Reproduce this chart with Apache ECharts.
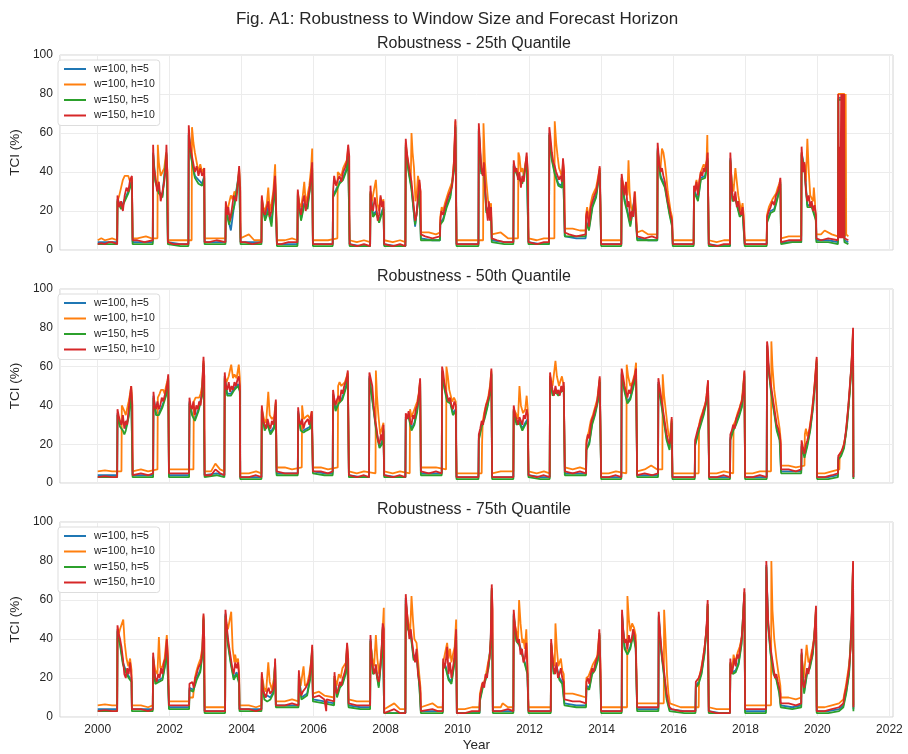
<!DOCTYPE html>
<html>
<head>
<meta charset="utf-8">
<script src="https://cdn.jsdelivr.net/npm/echarts@6.0.0/dist/echarts.min.js"></script>
<style>html,body{margin:0;padding:0;background:#fff;}#chart{width:908px;height:754px;}</style>
</head>
<body>
<div id="chart"></div>
<script>
const mainTitle = 'Fig. A1: Robustness to Window Size and Forecast Horizon';
const panelTitles = ['Robustness - 25th Quantile', 'Robustness - 50th Quantile', 'Robustness - 75th Quantile'];
const seriesNames = ['w=100, h=5', 'w=100, h=10', 'w=150, h=5', 'w=150, h=10'];
const xTicks = [2000, 2002, 2004, 2006, 2008, 2010, 2012, 2014, 2016, 2018, 2020, 2022];

// ---------- 25th quantile ----------
const q25_w100_h5 = [[2000.0,4],[2000.3,4],[2000.54,4],[2000.55,26],[2000.65,22],[2000.75,26],[2000.85,30],[2000.95,36],[2000.97,4],
[2001.3,4],[2001.53,4],[2001.54,50],[2001.6,36],[2001.7,30],[2001.8,28],[2001.91,50],[2001.95,4],
[2002.3,3],[2002.52,3],[2002.53,60],[2002.6,48],[2002.7,38],[2002.8,36],[2002.9,34],[2002.96,38],[2002.97,4],
[2003.3,4],[2003.55,4],[2003.56,22],[2003.65,14],[2003.7,10],[2003.8,24],[2003.93,40],[2003.97,4],
[2004.3,4],[2004.55,4],[2004.56,26],[2004.65,16],[2004.74,22],[2004.83,14],[2004.93,35],[2004.96,17],[2004.98,3],
[2005.3,3],[2005.55,3],[2005.56,29],[2005.65,16],[2005.74,24],[2005.83,22],[2005.96,42],[2005.98,3],
[2006.3,3],[2006.53,3],[2006.54,28],[2006.62,31],[2006.72,35],[2006.82,37],[2006.92,42],[2006.96,50],[2007.0,3],
[2007.3,2],[2007.57,2],[2007.58,30],[2007.65,18],[2007.74,20],[2007.82,15],[2007.9,20],[2007.94,22],[2007.96,3],
[2008.3,2],[2008.55,2],[2008.56,54],[2008.63,42],[2008.72,32],[2008.82,12],[2008.9,25],[2008.94,33],[2008.98,6],
[2009.3,5],[2009.51,5],[2009.52,14],[2009.6,16],[2009.7,23],[2009.8,28],[2009.9,42],[2009.94,64],[2009.97,3],
[2010.3,3],[2010.58,3],[2010.59,62],[2010.66,40],[2010.73,42],[2010.8,20],[2010.87,22],[2010.93,20],[2010.95,5],
[2011.3,4],[2011.55,4],[2011.56,44],[2011.64,40],[2011.72,37],[2011.8,35],[2011.92,47],[2011.97,4],
[2012.3,3],[2012.54,3],[2012.55,60],[2012.62,47],[2012.7,40],[2012.8,34],[2012.9,33],[2012.93,44],[2012.98,7],
[2013.3,6],[2013.56,6],[2013.57,15],[2013.65,11],[2013.75,23],[2013.85,28],[2013.95,41],[2013.99,3],
[2014.3,3],[2014.55,3],[2014.56,37],[2014.64,26],[2014.72,20],[2014.8,13],[2014.92,27],[2014.99,6],
[2015.3,5],[2015.55,5],[2015.56,52],[2015.64,38],[2015.76,33],[2015.88,20],[2015.96,13],[2015.98,3],
[2016.3,3],[2016.56,3],[2016.57,31],[2016.68,26],[2016.76,37],[2016.88,38],[2016.95,47],[2016.98,3],
[2017.3,2],[2017.57,2],[2017.58,47],[2017.64,26],[2017.72,27],[2017.84,18],[2017.92,20],[2017.98,3],
[2018.3,3],[2018.59,3],[2018.6,15],[2018.7,20],[2018.8,21],[2018.9,28],[2018.97,35],[2018.99,4],
[2019.3,4],[2019.55,4],[2019.56,50],[2019.64,42],[2019.72,23],[2019.84,23],[2019.96,16],[2019.97,5],
[2020.3,5],[2020.57,4],[2020.58,78],[2020.74,78],[2020.75,5],[2020.86,4]];

const q25_w100_h10 = [[2000.0,5],[2000.1,6],[2000.2,5],[2000.3,5.5],[2000.4,6],[2000.54,5],
[2000.55,25],[2000.6,28],[2000.65,32],[2000.7,36],[2000.75,38],[2000.8,37],[2000.85,38],[2000.9,35],[2000.95,37],[2000.97,6],
[2001.1,6],[2001.34,7],[2001.5,6],[2001.66,6],
[2001.67,54],[2001.7,45],[2001.75,38],[2001.8,40],[2001.85,42],[2001.9,50],[2001.94,40],[2001.95,5],
[2002.2,5],[2002.5,5],[2002.61,5],
[2002.62,63],[2002.66,55],[2002.7,50],[2002.75,45],[2002.8,40],[2002.85,44],[2002.9,40],[2002.96,42],[2002.97,6],
[2003.2,6],[2003.4,6],[2003.55,6],
[2003.56,24],[2003.6,20],[2003.65,24],[2003.7,28],[2003.75,26],[2003.8,30],[2003.85,28],[2003.9,36],[2003.93,42],[2003.96,32],[2003.97,6],
[2004.2,8],[2004.35,5],[2004.55,5],
[2004.56,27],[2004.6,22],[2004.65,20],[2004.7,24],[2004.74,32],[2004.78,20],[2004.83,24],[2004.88,30],[2004.93,44],[2004.96,20],[2004.98,5],
[2005.2,5],[2005.4,6],[2005.55,5],
[2005.56,30],[2005.6,24],[2005.65,22],[2005.7,28],[2005.74,35],[2005.78,24],[2005.83,28],[2005.88,33],[2005.93,42],[2005.96,52],[2005.98,5],
[2006.2,5],[2006.4,5],[2006.66,6],
[2006.67,40],[2006.72,40],[2006.77,38],[2006.82,42],[2006.87,44],[2006.92,46],[2006.96,52],[2007.0,5],
[2007.2,4],[2007.4,5],[2007.57,4],
[2007.58,30],[2007.62,25],[2007.67,24],[2007.73,36],[2007.77,24],[2007.82,20],[2007.86,27],[2007.9,24],[2007.94,26],[2007.96,5],
[2008.2,4],[2008.4,5],[2008.55,4],
[2008.56,55],[2008.6,48],[2008.65,42],[2008.7,36],[2008.72,60],[2008.75,50],[2008.79,42],[2008.83,25],[2008.87,30],[2008.9,38],[2008.94,34],[2008.97,30],[2008.98,9],
[2009.2,9],[2009.4,8],[2009.51,9],
[2009.52,17],[2009.56,22],[2009.6,20],[2009.65,24],[2009.7,27],[2009.75,30],[2009.8,31],[2009.85,35],[2009.9,46],[2009.94,66],[2009.97,5],
[2010.2,5],[2010.4,5],[2010.71,5],
[2010.72,65],[2010.76,45],[2010.8,35],[2010.85,25],[2010.9,20],[2010.93,24],[2010.95,8],
[2011.2,9],[2011.4,6],[2011.68,6],
[2011.69,50],[2011.72,48],[2011.76,40],[2011.8,42],[2011.84,38],[2011.88,44],[2011.92,48],[2011.95,40],[2011.97,6],
[2012.2,5],[2012.4,6],[2012.69,6],
[2012.7,66],[2012.74,55],[2012.78,48],[2012.82,42],[2012.86,40],[2012.9,37],[2012.93,45],[2012.96,40],[2012.98,11],
[2013.2,11],[2013.4,10],[2013.56,10],
[2013.57,18],[2013.6,22],[2013.65,16],[2013.7,24],[2013.75,28],[2013.8,30],[2013.85,32],[2013.9,37],[2013.95,42],[2013.99,5],
[2014.2,5],[2014.4,5],[2014.55,5],
[2014.56,37],[2014.6,34],[2014.64,30],[2014.68,34],[2014.72,28],[2014.75,46],[2014.78,30],[2014.82,22],[2014.86,20],[2014.9,24],[2014.93,30],[2014.96,20],[2014.99,9],
[2015.13,10],[2015.3,8],[2015.55,8],
[2015.56,50],[2015.6,45],[2015.64,42],[2015.68,52],[2015.72,50],[2015.76,45],[2015.8,38],[2015.84,30],[2015.88,25],[2015.92,20],[2015.96,17],[2015.98,5],
[2016.2,5],[2016.4,5],[2016.56,5],
[2016.57,30],[2016.6,32],[2016.64,36],[2016.68,30],[2016.72,36],[2016.76,40],[2016.8,40],[2016.84,44],[2016.88,42],[2016.92,46],[2016.94,59],[2016.98,5],
[2017.2,4],[2017.4,5],[2017.57,5],
[2017.58,45],[2017.62,35],[2017.67,30],[2017.72,42],[2017.76,35],[2017.8,28],[2017.84,24],[2017.88,20],[2017.92,24],[2017.95,18],[2017.98,5],
[2018.2,5],[2018.4,5],[2018.59,5],
[2018.6,18],[2018.65,22],[2018.7,24],[2018.75,26],[2018.8,25],[2018.85,29],[2018.9,32],[2018.94,34],[2018.97,36],[2018.99,6],
[2019.2,7],[2019.4,7],[2019.55,7],
[2019.56,50],[2019.6,42],[2019.64,44],[2019.68,35],[2019.72,57],[2019.76,40],[2019.8,28],[2019.84,28],[2019.88,25],[2019.9,32],[2019.93,25],[2019.97,8],
[2020.1,8],[2020.2,10],[2020.4,8],[2020.57,7],
[2020.58,80],[2020.75,80],[2020.76,7],[2020.765,80],[2020.77,7],[2020.775,80],[2020.78,8],[2020.785,80],[2020.79,80],[2020.8,8],[2020.86,7]];

const q25_w150_h5 = [[2000.0,3],[2000.3,3],[2000.54,3],[2000.55,25],[2000.65,21],[2000.75,25],[2000.85,29],[2000.95,35],[2000.97,3],
[2001.3,3],[2001.53,3],[2001.54,49],[2001.6,35],[2001.7,29],[2001.8,27],[2001.91,49],[2001.95,3],
[2002.3,2],[2002.52,2],[2002.53,59],[2002.6,47],[2002.7,37],[2002.8,34],[2002.9,33],[2002.96,37],[2002.97,3],
[2003.3,3],[2003.55,3],[2003.56,21],[2003.65,13],[2003.7,12],[2003.8,23],[2003.93,39],[2003.97,3],
[2004.3,3],[2004.55,3],[2004.56,25],[2004.65,15],[2004.74,20],[2004.83,12],[2004.93,34],[2004.96,16],[2004.98,2],
[2005.3,2],[2005.55,2],[2005.56,28],[2005.65,15],[2005.74,23],[2005.83,21],[2005.96,41],[2005.98,2],
[2006.3,2],[2006.53,2],[2006.54,27],[2006.62,30],[2006.72,34],[2006.82,36],[2006.92,41],[2006.96,49],[2007.0,2],
[2007.3,2],[2007.57,2],[2007.58,29],[2007.65,17],[2007.74,19],[2007.82,14],[2007.9,19],[2007.94,21],[2007.96,2],
[2008.3,2],[2008.55,2],[2008.56,53],[2008.63,41],[2008.72,31],[2008.82,13],[2008.9,24],[2008.94,32],[2008.98,5],
[2009.3,5],[2009.51,5],[2009.52,13],[2009.6,15],[2009.7,22],[2009.8,27],[2009.9,41],[2009.94,63],[2009.97,2],
[2010.3,2],[2010.58,2],[2010.59,61],[2010.66,39],[2010.73,41],[2010.8,19],[2010.87,21],[2010.93,19],[2010.95,4],
[2011.3,3],[2011.55,3],[2011.56,43],[2011.64,39],[2011.72,36],[2011.8,34],[2011.92,46],[2011.97,3],
[2012.3,3],[2012.54,3],[2012.55,59],[2012.62,46],[2012.7,39],[2012.8,33],[2012.9,32],[2012.93,43],[2012.98,7],
[2013.3,7],[2013.56,7],[2013.57,14],[2013.65,10],[2013.75,22],[2013.85,27],[2013.95,40],[2013.99,2],
[2014.3,2],[2014.55,2],[2014.56,36],[2014.64,25],[2014.72,19],[2014.8,12],[2014.92,26],[2014.99,5],
[2015.3,5],[2015.55,5],[2015.56,51],[2015.64,37],[2015.76,32],[2015.88,19],[2015.96,12],[2015.98,2],
[2016.3,2],[2016.56,2],[2016.57,30],[2016.68,25],[2016.76,36],[2016.88,37],[2016.95,46],[2016.98,2],
[2017.3,2],[2017.57,2],[2017.58,46],[2017.64,25],[2017.72,26],[2017.84,17],[2017.92,19],[2017.98,2],
[2018.3,2],[2018.59,2],[2018.6,14],[2018.7,19],[2018.8,20],[2018.9,27],[2018.97,34],[2018.99,3],
[2019.3,4],[2019.55,4],[2019.56,49],[2019.64,41],[2019.72,22],[2019.84,22],[2019.96,15],[2019.97,4],
[2020.3,4],[2020.57,3],[2020.58,77],[2020.74,77],[2020.75,4],[2020.86,3]];

const q25_w150_h10 = [[2000.0,3],[2000.1,3.5],[2000.2,3],[2000.3,4],[2000.4,4],[2000.54,3],
[2000.55,28],[2000.6,22],[2000.65,25],[2000.7,20],[2000.75,28],[2000.8,32],[2000.85,30],[2000.9,36],[2000.95,38],[2000.97,5],
[2001.1,5],[2001.3,4],[2001.53,5],
[2001.54,54],[2001.56,42],[2001.6,38],[2001.65,30],[2001.7,35],[2001.75,25],[2001.8,30],[2001.85,35],[2001.89,42],[2001.91,54],[2001.94,35],[2001.95,4],
[2002.1,3],[2002.3,3],[2002.52,3],
[2002.53,64],[2002.56,55],[2002.6,50],[2002.65,45],[2002.7,40],[2002.75,43],[2002.8,38],[2002.85,42],[2002.9,38],[2002.94,40],[2002.96,42],[2002.97,4],
[2003.1,4],[2003.3,5],[2003.55,4],
[2003.56,25],[2003.6,18],[2003.63,22],[2003.67,15],[2003.72,20],[2003.78,28],[2003.85,25],[2003.9,35],[2003.93,43],[2003.96,30],[2003.97,4],
[2004.1,4],[2004.3,3],[2004.55,4],
[2004.56,28],[2004.6,20],[2004.65,18],[2004.7,22],[2004.74,25],[2004.78,17],[2004.83,20],[2004.88,28],[2004.93,38],[2004.96,19],[2004.98,3],
[2005.1,3],[2005.3,4],[2005.55,4],
[2005.56,31],[2005.6,22],[2005.65,18],[2005.7,25],[2005.74,28],[2005.78,20],[2005.83,25],[2005.88,30],[2005.93,38],[2005.96,45],[2005.98,3],
[2006.1,3],[2006.3,3],[2006.53,3],
[2006.54,30],[2006.57,38],[2006.62,33],[2006.67,36],[2006.72,38],[2006.77,35],[2006.82,40],[2006.87,42],[2006.92,45],[2006.96,54],[2006.99,48],[2007.0,3],
[2007.2,2],[2007.4,3],[2007.57,2],
[2007.58,33],[2007.61,22],[2007.65,20],[2007.7,27],[2007.74,22],[2007.78,15],[2007.82,18],[2007.86,28],[2007.9,22],[2007.94,25],[2007.96,3],
[2008.2,2],[2008.4,3],[2008.55,2],
[2008.56,57],[2008.59,50],[2008.63,45],[2008.67,40],[2008.72,35],[2008.77,25],[2008.82,15],[2008.86,18],[2008.9,28],[2008.94,36],[2008.97,30],[2008.98,8],
[2009.1,7],[2009.3,6],[2009.51,7],
[2009.52,15],[2009.55,20],[2009.6,18],[2009.65,22],[2009.7,25],[2009.75,28],[2009.8,30],[2009.85,33],[2009.9,45],[2009.94,67],[2009.97,3],
[2010.1,3],[2010.3,3],[2010.58,3],
[2010.59,65],[2010.62,55],[2010.66,42],[2010.7,38],[2010.73,45],[2010.77,30],[2010.8,22],[2010.84,15],[2010.87,25],[2010.9,15],[2010.93,22],[2010.95,6],
[2011.1,5],[2011.3,4],[2011.55,4],
[2011.56,46],[2011.6,40],[2011.64,42],[2011.68,36],[2011.72,40],[2011.76,32],[2011.8,38],[2011.84,35],[2011.88,42],[2011.92,50],[2011.95,40],[2011.97,4],
[2012.2,3],[2012.4,4],[2012.54,4],
[2012.55,63],[2012.58,58],[2012.62,50],[2012.66,45],[2012.7,43],[2012.74,40],[2012.78,38],[2012.82,36],[2012.86,38],[2012.9,35],[2012.93,47],[2012.96,40],[2012.98,9],
[2013.1,8],[2013.3,7],[2013.56,8],
[2013.57,17],[2013.6,20],[2013.65,12],[2013.7,22],[2013.75,25],[2013.8,28],[2013.85,30],[2013.9,35],[2013.95,43],[2013.99,3],
[2014.2,3],[2014.4,3],[2014.55,3],
[2014.56,39],[2014.6,33],[2014.64,28],[2014.68,35],[2014.72,22],[2014.76,25],[2014.8,15],[2014.84,20],[2014.88,17],[2014.92,30],[2014.95,18],[2014.99,7],
[2015.2,6],[2015.4,7],[2015.55,6],
[2015.56,55],[2015.6,45],[2015.64,40],[2015.68,42],[2015.72,38],[2015.76,35],[2015.8,30],[2015.84,25],[2015.88,22],[2015.92,18],[2015.96,15],[2015.98,3],
[2016.2,3],[2016.4,3],[2016.56,3],
[2016.57,33],[2016.6,30],[2016.64,35],[2016.68,28],[2016.72,35],[2016.76,40],[2016.8,38],[2016.84,42],[2016.88,40],[2016.92,45],[2016.95,50],[2016.98,3],
[2017.2,2],[2017.4,3],[2017.57,3],
[2017.58,50],[2017.61,35],[2017.64,28],[2017.68,25],[2017.72,30],[2017.76,22],[2017.8,25],[2017.84,20],[2017.88,18],[2017.92,22],[2017.95,15],[2017.98,3],
[2018.2,3],[2018.4,3],[2018.59,3],
[2018.6,17],[2018.65,20],[2018.7,22],[2018.75,25],[2018.8,23],[2018.85,28],[2018.9,30],[2018.94,33],[2018.97,37],[2018.99,4],
[2019.2,5],[2019.4,5],[2019.55,5],
[2019.56,53],[2019.6,40],[2019.64,45],[2019.68,30],[2019.72,25],[2019.76,28],[2019.8,22],[2019.84,25],[2019.88,20],[2019.92,23],[2019.96,18],[2019.97,6],
[2020.1,5],[2020.3,6],[2020.57,5],
[2020.58,80],[2020.59,53],[2020.6,8],[2020.61,53],[2020.62,6],[2020.63,53],[2020.64,6],[2020.65,53],[2020.66,80],[2020.67,6],[2020.68,80],[2020.69,6],[2020.7,80],[2020.71,6],[2020.72,80],[2020.73,6],[2020.74,80],[2020.75,6],[2020.8,6],[2020.86,5]];

// ---------- 50th quantile ----------
const q50_w100_h5 = [[2000.0,4],[2000.3,4],[2000.54,4],[2000.55,36],[2000.62,30],[2000.7,32],[2000.78,28],[2000.86,35],[2000.93,48],[2000.97,4],
[2001.3,4],[2001.54,4],[2001.55,45],[2001.62,36],[2001.7,36],[2001.8,40],[2001.9,46],[2001.96,54],[2001.98,4],
[2002.3,4],[2002.54,4],[2002.55,42],[2002.62,36],[2002.7,33],[2002.8,38],[2002.9,46],[2002.94,62],[2002.97,4],
[2003.3,5],[2003.52,4],[2003.53,55],[2003.6,46],[2003.7,46],[2003.8,49],[2003.9,51],[2003.95,48],[2003.96,3],
[2004.3,3],[2004.55,3],[2004.56,38],[2004.64,28],[2004.72,31],[2004.8,26],[2004.9,29],[2004.95,41],[2004.97,5],
[2005.3,5],[2005.56,5],[2005.57,37],[2005.64,28],[2005.72,27],[2005.8,28],[2005.9,29],[2005.95,35],[2005.98,6],
[2006.3,5],[2006.53,5],[2006.54,46],[2006.61,38],[2006.7,42],[2006.8,44],[2006.9,50],[2006.95,56],[2006.98,4],
[2007.3,3],[2007.54,3],[2007.55,55],[2007.6,54],[2007.67,38],[2007.75,26],[2007.83,19],[2007.9,21],[2007.94,28],[2007.96,4],
[2008.3,3],[2008.55,3],[2008.56,34],[2008.64,35],[2008.72,28],[2008.8,31],[2008.88,38],[2008.96,52],[2008.98,5],
[2009.3,5],[2009.56,5],[2009.57,58],[2009.63,50],[2009.71,43],[2009.8,42],[2009.87,36],[2009.95,38],[2009.97,3],
[2010.3,3],[2010.58,3],[2010.59,23],[2010.67,30],[2010.75,34],[2010.83,40],[2010.91,48],[2010.94,57],[2010.96,3],
[2011.3,3],[2011.55,3],[2011.56,38],[2011.64,31],[2011.72,32],[2011.8,28],[2011.88,31],[2011.95,33],[2011.97,4],
[2012.3,3],[2012.56,3],[2012.57,55],[2012.64,46],[2012.72,48],[2012.8,46],[2012.88,48],[2012.95,50],[2012.98,5],
[2013.3,5],[2013.57,5],[2013.58,18],[2013.66,21],[2013.74,31],[2013.82,36],[2013.9,43],[2013.95,53],[2013.99,3],
[2014.3,3],[2014.55,3],[2014.56,57],[2014.64,48],[2014.72,42],[2014.8,44],[2014.88,50],[2014.96,57],[2014.99,4],
[2015.3,4],[2015.57,4],[2015.58,52],[2015.65,43],[2015.73,33],[2015.81,23],[2015.89,18],[2015.95,32],[2015.97,3],
[2016.3,3],[2016.59,3],[2016.6,20],[2016.68,26],[2016.76,31],[2016.84,36],[2016.92,43],[2016.96,51],[2016.99,3],
[2017.3,3],[2017.57,3],[2017.58,23],[2017.66,28],[2017.74,31],[2017.82,35],[2017.9,40],[2017.97,56],[2017.99,3],
[2018.3,3],[2018.59,3],[2018.6,71],[2018.64,60],[2018.71,48],[2018.79,38],[2018.87,28],[2018.95,23],[2018.99,6],
[2019.3,6],[2019.55,6],[2019.56,20],[2019.64,14],[2019.72,20],[2019.8,28],[2019.88,40],[2019.96,58],[2019.98,63],[2019.99,3],
[2020.3,3],[2020.57,4],[2020.58,13],[2020.66,15],[2020.74,19],[2020.82,30],[2020.9,48],[2020.97,68],[2020.99,78],[2021.0,3]];

const q50_w100_h10 = [[2000.0,6],[2000.2,6.5],[2000.4,6],[2000.66,6],
[2000.67,40],[2000.72,38],[2000.78,35],[2000.82,36],[2000.86,42],[2000.9,46],[2000.93,50],[2000.96,42],[2000.97,6],
[2001.2,7],[2001.4,6],[2001.66,7],
[2001.67,44],[2001.72,46],[2001.76,48],[2001.82,48],[2001.86,46],[2001.9,50],[2001.94,53],[2001.96,55],[2001.98,7],
[2002.2,7],[2002.4,7],[2002.66,7],
[2002.67,42],[2002.72,44],[2002.76,45],[2002.82,44],[2002.86,46],[2002.9,50],[2002.94,63],[2002.96,55],[2002.97,6],
[2003.15,6],[2003.27,10],[2003.4,7],[2003.52,6],
[2003.53,55],[2003.58,52],[2003.64,55],[2003.71,61],[2003.76,54],[2003.8,56],[2003.86,54],[2003.92,61],[2003.95,54],[2003.96,5],
[2004.2,5],[2004.4,6],[2004.55,5],
[2004.56,38],[2004.62,33],[2004.68,31],[2004.74,47],[2004.78,35],[2004.84,33],[2004.9,34],[2004.95,42],[2004.97,8],
[2005.2,8],[2005.4,7],[2005.67,8],
[2005.68,40],[2005.72,33],[2005.78,34],[2005.84,35],[2005.9,33],[2005.95,37],[2005.98,8],
[2006.2,8],[2006.4,7],[2006.67,8],
[2006.68,50],[2006.72,52],[2006.77,50],[2006.82,49],[2006.87,52],[2006.92,55],[2006.95,57],[2006.98,6],
[2007.2,5],[2007.4,6],[2007.72,5],
[2007.73,58],[2007.76,45],[2007.8,35],[2007.85,25],[2007.9,26],[2007.94,31],[2007.96,6],
[2008.2,5],[2008.4,6],[2008.67,5],
[2008.68,38],[2008.72,34],[2008.78,37],[2008.84,40],[2008.88,42],[2008.92,46],[2008.96,53],[2008.98,8],
[2009.2,8],[2009.4,8],[2009.68,7],
[2009.69,60],[2009.73,55],[2009.77,48],[2009.81,45],[2009.85,42],[2009.9,44],[2009.95,42],[2009.97,5],
[2010.2,5],[2010.4,5],[2010.67,5],
[2010.68,20],[2010.7,32],[2010.75,37],[2010.8,41],[2010.85,44],[2010.9,50],[2010.94,58],[2010.96,5],
[2011.2,6],[2011.4,6],[2011.55,6],
[2011.56,38],[2011.62,36],[2011.68,33],[2011.72,50],[2011.76,40],[2011.82,36],[2011.88,38],[2011.92,45],[2011.95,38],[2011.97,6],
[2012.2,5],[2012.4,6],[2012.56,5],
[2012.57,55],[2012.64,50],[2012.72,63],[2012.76,55],[2012.82,50],[2012.85,52],[2012.9,55],[2012.95,50],[2012.98,8],
[2013.2,7],[2013.4,8],[2013.57,7],
[2013.58,22],[2013.64,26],[2013.7,32],[2013.76,35],[2013.82,39],[2013.88,43],[2013.95,54],[2013.99,5],
[2014.2,5],[2014.4,6],[2014.69,5],
[2014.7,61],[2014.74,55],[2014.8,50],[2014.86,52],[2014.92,56],[2014.96,62],[2014.99,6],
[2015.2,7],[2015.38,9],[2015.55,7],[2015.69,7],
[2015.7,56],[2015.74,45],[2015.8,35],[2015.86,25],[2015.9,23],[2015.95,33],[2015.97,5],
[2016.2,5],[2016.4,5],[2016.7,5],
[2016.71,30],[2016.76,34],[2016.8,36],[2016.85,39],[2016.9,42],[2016.96,52],[2016.99,5],
[2017.2,5],[2017.4,6],[2017.66,5],
[2017.67,30],[2017.72,32],[2017.78,36],[2017.84,39],[2017.9,43],[2017.97,57],[2017.99,5],
[2018.2,5],[2018.4,6],[2018.71,6],
[2018.72,73],[2018.75,60],[2018.8,48],[2018.87,38],[2018.95,28],[2018.98,22],[2018.99,9],
[2019.2,9],[2019.4,8],[2019.64,9],
[2019.65,25],[2019.68,28],[2019.72,24],[2019.78,28],[2019.84,36],[2019.9,46],[2019.96,60],[2019.98,64],[2019.99,5],
[2020.2,5],[2020.4,6],[2020.61,7],
[2020.62,15],[2020.7,17],[2020.78,24],[2020.86,39],[2020.94,59],[2020.99,79],[2021.0,5]];

const q50_w150_h5 = [[2000.0,3],[2000.3,3],[2000.54,3],[2000.55,35],[2000.62,29],[2000.7,27],[2000.74,25],[2000.78,27],[2000.86,34],[2000.93,47],[2000.97,3],
[2001.3,3],[2001.54,3],[2001.55,44],[2001.62,35],[2001.7,35],[2001.8,39],[2001.9,45],[2001.96,53],[2001.98,3],
[2002.3,3],[2002.54,3],[2002.55,41],[2002.62,35],[2002.7,32],[2002.8,37],[2002.9,45],[2002.94,61],[2002.97,3],
[2003.3,4],[2003.52,3],[2003.53,54],[2003.6,45],[2003.7,45],[2003.8,48],[2003.9,50],[2003.95,47],[2003.96,2],
[2004.3,2],[2004.55,2],[2004.56,37],[2004.64,27],[2004.72,30],[2004.8,25],[2004.9,28],[2004.95,40],[2004.97,4],
[2005.3,4],[2005.56,4],[2005.57,36],[2005.64,27],[2005.72,26],[2005.8,27],[2005.9,28],[2005.95,34],[2005.98,5],
[2006.3,4],[2006.53,4],[2006.54,45],[2006.61,37],[2006.7,41],[2006.8,43],[2006.9,49],[2006.95,55],[2006.98,3],
[2007.3,3],[2007.54,3],[2007.55,54],[2007.6,53],[2007.67,37],[2007.75,25],[2007.83,18],[2007.9,20],[2007.94,27],[2007.96,3],
[2008.3,3],[2008.55,3],[2008.56,33],[2008.64,34],[2008.72,27],[2008.8,30],[2008.88,37],[2008.96,51],[2008.98,4],
[2009.3,4],[2009.56,4],[2009.57,57],[2009.63,49],[2009.71,42],[2009.8,41],[2009.87,35],[2009.95,37],[2009.97,2],
[2010.3,2],[2010.58,2],[2010.59,22],[2010.67,29],[2010.75,33],[2010.83,39],[2010.91,47],[2010.94,56],[2010.96,2],
[2011.3,2],[2011.55,2],[2011.56,37],[2011.64,30],[2011.72,31],[2011.8,27],[2011.88,30],[2011.95,32],[2011.97,3],
[2012.3,2],[2012.56,2],[2012.57,54],[2012.64,45],[2012.72,47],[2012.8,45],[2012.88,47],[2012.95,49],[2012.98,4],
[2013.3,4],[2013.57,4],[2013.58,17],[2013.66,20],[2013.74,30],[2013.82,35],[2013.9,42],[2013.95,52],[2013.99,2],
[2014.3,2],[2014.55,2],[2014.56,56],[2014.64,47],[2014.72,41],[2014.8,43],[2014.88,49],[2014.96,56],[2014.99,3],
[2015.3,3],[2015.57,3],[2015.58,51],[2015.65,42],[2015.73,32],[2015.81,22],[2015.89,17],[2015.95,31],[2015.97,2],
[2016.3,2],[2016.59,2],[2016.6,19],[2016.68,25],[2016.76,30],[2016.84,35],[2016.92,42],[2016.96,50],[2016.99,2],
[2017.3,2],[2017.57,2],[2017.58,22],[2017.66,27],[2017.74,30],[2017.82,34],[2017.9,39],[2017.97,55],[2017.99,2],
[2018.3,2],[2018.59,2],[2018.6,70],[2018.64,59],[2018.71,47],[2018.79,37],[2018.87,27],[2018.95,22],[2018.99,5],
[2019.3,5],[2019.55,5],[2019.56,19],[2019.64,13],[2019.72,19],[2019.8,27],[2019.88,39],[2019.96,57],[2019.98,62],[2019.99,2],
[2020.3,2],[2020.57,3],[2020.58,12],[2020.66,14],[2020.74,18],[2020.82,29],[2020.9,47],[2020.97,67],[2020.99,77],[2021.0,2]];

const q50_w150_h10 = [[2000.0,3],[2000.2,3.5],[2000.4,3],[2000.54,3],
[2000.55,38],[2000.58,35],[2000.62,32],[2000.66,30],[2000.7,35],[2000.74,28],[2000.78,32],[2000.82,30],[2000.86,38],[2000.9,45],[2000.93,50],[2000.96,40],[2000.97,4],
[2001.2,5],[2001.4,4],[2001.54,5],
[2001.55,47],[2001.58,40],[2001.62,38],[2001.66,42],[2001.7,38],[2001.74,40],[2001.78,44],[2001.82,42],[2001.86,45],[2001.9,48],[2001.94,52],[2001.96,56],[2001.98,5],
[2002.2,5],[2002.4,5],[2002.54,5],
[2002.55,44],[2002.58,40],[2002.62,38],[2002.66,42],[2002.7,35],[2002.74,40],[2002.78,38],[2002.82,42],[2002.86,40],[2002.9,48],[2002.94,65],[2002.96,55],[2002.97,4],
[2003.15,4],[2003.27,7],[2003.4,5],[2003.52,4],
[2003.53,57],[2003.56,50],[2003.6,48],[2003.64,52],[2003.68,47],[2003.72,50],[2003.76,48],[2003.8,52],[2003.84,50],[2003.88,53],[2003.92,55],[2003.95,50],[2003.96,3],
[2004.2,3],[2004.4,4],[2004.55,3],
[2004.56,40],[2004.6,32],[2004.64,30],[2004.68,28],[2004.72,33],[2004.76,30],[2004.8,28],[2004.84,32],[2004.88,30],[2004.92,35],[2004.95,43],[2004.97,6],
[2005.2,5],[2005.4,5],[2005.56,5],
[2005.57,39],[2005.6,32],[2005.64,30],[2005.68,33],[2005.72,28],[2005.76,31],[2005.8,30],[2005.84,33],[2005.88,30],[2005.92,34],[2005.95,37],[2005.98,6],
[2006.2,6],[2006.4,5],[2006.53,6],
[2006.54,48],[2006.57,44],[2006.61,40],[2006.65,43],[2006.69,45],[2006.73,42],[2006.77,48],[2006.81,46],[2006.85,50],[2006.89,52],[2006.93,55],[2006.95,58],[2006.98,4],
[2007.2,3],[2007.4,4],[2007.54,3],
[2007.55,57],[2007.6,56],[2007.63,50],[2007.67,40],[2007.71,32],[2007.75,28],[2007.79,22],[2007.83,20],[2007.87,25],[2007.91,22],[2007.94,30],[2007.96,4],
[2008.2,3],[2008.4,4],[2008.55,3],
[2008.56,36],[2008.6,33],[2008.64,37],[2008.68,32],[2008.72,30],[2008.76,35],[2008.8,33],[2008.84,38],[2008.88,40],[2008.92,45],[2008.96,54],[2008.98,6],
[2009.2,5],[2009.4,6],[2009.56,5],
[2009.57,60],[2009.6,57],[2009.63,52],[2009.67,48],[2009.71,45],[2009.75,42],[2009.79,44],[2009.83,40],[2009.87,38],[2009.91,42],[2009.95,40],[2009.97,3],
[2010.2,3],[2010.4,3],[2010.58,3],
[2010.59,25],[2010.63,28],[2010.67,32],[2010.71,30],[2010.75,36],[2010.79,40],[2010.83,42],[2010.87,45],[2010.91,50],[2010.94,59],[2010.96,3],
[2011.2,3],[2011.4,3],[2011.55,3],
[2011.56,40],[2011.6,35],[2011.64,33],[2011.68,30],[2011.72,34],[2011.76,32],[2011.8,30],[2011.84,35],[2011.88,33],[2011.92,38],[2011.95,35],[2011.97,4],
[2012.2,3],[2012.4,4],[2012.56,3],
[2012.57,57],[2012.6,52],[2012.64,48],[2012.68,45],[2012.72,50],[2012.76,46],[2012.8,48],[2012.84,45],[2012.88,50],[2012.92,47],[2012.95,52],[2012.98,6],
[2013.2,5],[2013.4,6],[2013.57,5],
[2013.58,20],[2013.62,25],[2013.66,23],[2013.7,30],[2013.74,33],[2013.78,35],[2013.82,38],[2013.86,40],[2013.9,45],[2013.95,55],[2013.99,3],
[2014.2,3],[2014.4,4],[2014.55,3],
[2014.56,59],[2014.6,55],[2014.64,50],[2014.68,47],[2014.72,44],[2014.76,48],[2014.8,46],[2014.84,50],[2014.88,52],[2014.92,55],[2014.96,59],[2014.99,4],
[2015.2,5],[2015.4,4],[2015.57,5],
[2015.58,54],[2015.61,50],[2015.65,45],[2015.69,40],[2015.73,35],[2015.77,30],[2015.81,25],[2015.85,22],[2015.89,20],[2015.93,25],[2015.95,34],[2015.97,3],
[2016.2,3],[2016.4,3],[2016.59,3],
[2016.6,22],[2016.64,25],[2016.68,28],[2016.72,30],[2016.76,33],[2016.8,35],[2016.84,38],[2016.88,40],[2016.92,45],[2016.96,53],[2016.99,3],
[2017.2,3],[2017.4,4],[2017.57,3],
[2017.58,25],[2017.62,27],[2017.66,30],[2017.7,28],[2017.74,33],[2017.78,35],[2017.82,37],[2017.86,40],[2017.9,42],[2017.94,48],[2017.97,58],[2017.99,3],
[2018.2,3],[2018.4,4],[2018.59,3],
[2018.6,73],[2018.62,70],[2018.64,62],[2018.67,55],[2018.71,50],[2018.75,45],[2018.79,40],[2018.83,35],[2018.87,30],[2018.91,28],[2018.95,25],[2018.98,20],[2018.99,7],
[2019.2,7],[2019.4,6],[2019.55,7],
[2019.56,22],[2019.6,18],[2019.64,15],[2019.68,20],[2019.72,22],[2019.76,25],[2019.8,30],[2019.84,35],[2019.88,42],[2019.92,50],[2019.96,60],[2019.98,65],[2019.99,3],
[2020.2,3],[2020.4,4],[2020.57,5],
[2020.58,14],[2020.62,15],[2020.66,16],[2020.7,18],[2020.74,20],[2020.78,25],[2020.82,32],[2020.86,40],[2020.9,50],[2020.94,60],[2020.97,70],[2020.99,80],[2021.0,3]];

// ---------- 75th quantile ----------
const q75_w100_h5 = [[2000.0,4],[2000.3,4],[2000.54,4],[2000.55,45],[2000.62,38],[2000.7,28],[2000.78,24],[2000.86,21],[2000.94,19],[2000.95,4],
[2001.3,4],[2001.53,4],[2001.54,31],[2001.6,18],[2001.7,19],[2001.8,20],[2001.88,28],[2001.92,38],[2001.98,5],
[2002.3,5],[2002.54,5],[2002.55,15],[2002.65,14],[2002.75,20],[2002.85,24],[2002.91,33],[2002.94,51],[2002.97,3],
[2003.3,3],[2003.54,3],[2003.55,53],[2003.62,38],[2003.7,28],[2003.78,20],[2003.86,23],[2003.93,18],[2003.94,4],
[2004.3,4],[2004.55,4],[2004.56,21],[2004.63,10],[2004.71,11],[2004.8,10],[2004.88,13],[2004.93,28],[2004.95,6],
[2005.3,6],[2005.58,6],[2005.59,22],[2005.66,10],[2005.74,11],[2005.82,12],[2005.9,20],[2005.96,35],[2005.98,9],
[2006.3,8],[2006.57,7],[2006.58,21],[2006.65,11],[2006.73,16],[2006.81,18],[2006.89,23],[2006.93,36],[2006.97,6],
[2007.3,5],[2007.57,5],[2007.58,40],[2007.65,23],[2007.73,25],[2007.81,16],[2007.89,33],[2007.92,46],[2007.96,2],
[2008.3,2],[2008.55,2],[2008.56,61],[2008.62,46],[2008.7,43],[2008.78,30],[2008.86,33],[2008.94,16],[2008.98,3],
[2009.3,3],[2009.59,3],[2009.6,28],[2009.67,26],[2009.75,20],[2009.83,18],[2009.91,28],[2009.96,43],[2009.98,2],
[2010.3,2],[2010.61,2],[2010.62,9],[2010.7,16],[2010.78,20],[2010.86,26],[2010.92,38],[2010.95,66],[2010.98,3],
[2011.3,3],[2011.55,3],[2011.56,53],[2011.63,40],[2011.71,38],[2011.79,33],[2011.87,28],[2011.94,23],[2011.97,3],
[2012.3,3],[2012.59,3],[2012.6,38],[2012.67,23],[2012.75,26],[2012.83,20],[2012.91,18],[2012.97,7],
[2013.3,6],[2013.57,6],[2013.58,16],[2013.66,15],[2013.74,23],[2013.82,25],[2013.9,30],[2013.94,43],[2013.99,3],
[2014.3,3],[2014.56,3],[2014.57,53],[2014.64,36],[2014.72,33],[2014.8,36],[2014.88,43],[2014.95,36],[2014.99,4],
[2015.3,4],[2015.58,4],[2015.59,52],[2015.65,36],[2015.73,23],[2015.81,10],[2015.89,4],
[2016.3,3],[2016.61,3],[2016.62,16],[2016.7,18],[2016.78,23],[2016.86,33],[2016.93,48],[2016.95,58],[2016.98,3],
[2017.3,2],[2017.57,2],[2017.58,28],[2017.65,23],[2017.73,24],[2017.81,28],[2017.89,38],[2017.97,64],[2017.99,3],
[2018.3,3],[2018.57,3],[2018.58,78],[2018.63,48],[2018.7,33],[2018.78,23],[2018.86,20],[2018.94,13],[2018.98,6],
[2019.3,5],[2019.55,6],[2019.56,33],[2019.63,13],[2019.71,23],[2019.79,26],[2019.87,33],[2019.94,48],[2019.96,55],[2019.98,3],
[2020.3,3],[2020.6,4],[2020.72,6],[2020.8,13],[2020.88,23],[2020.95,48],[2020.99,78],[2021.0,4]];

const q75_w100_h10 = [[2000.0,6],[2000.2,6.5],[2000.4,6],[2000.54,6],
[2000.55,40],[2000.62,45],[2000.71,50],[2000.75,38],[2000.8,30],[2000.85,26],[2000.9,30],[2000.94,24],[2000.95,6],
[2001.2,6],[2001.4,5],[2001.53,6],
[2001.54,30],[2001.6,24],[2001.66,22],[2001.7,41],[2001.74,25],[2001.8,26],[2001.86,30],[2001.92,42],[2001.95,32],[2001.98,8],
[2002.2,8],[2002.4,8],[2002.54,8],
[2002.55,10],[2002.65,10],[2002.7,20],[2002.75,24],[2002.8,27],[2002.86,30],[2002.91,36],[2002.94,52],[2002.96,40],[2002.97,5],
[2003.2,5],[2003.4,5],[2003.54,5],
[2003.55,50],[2003.62,45],[2003.71,54],[2003.75,35],[2003.8,28],[2003.82,32],[2003.86,28],[2003.9,30],[2003.93,22],[2003.94,6],
[2004.2,6],[2004.4,5],[2004.55,6],
[2004.56,22],[2004.62,15],[2004.68,13],[2004.74,28],[2004.78,18],[2004.84,14],[2004.9,20],[2004.93,28],[2004.95,8],
[2005.2,8],[2005.4,9],[2005.58,8],
[2005.59,22],[2005.64,16],[2005.72,26],[2005.76,16],[2005.82,17],[2005.88,22],[2005.94,30],[2005.96,36],[2005.98,12],
[2006.15,13],[2006.3,11],[2006.57,10],
[2006.58,21],[2006.64,16],[2006.7,22],[2006.75,20],[2006.8,25],[2006.85,24],[2006.9,28],[2006.93,37],[2006.96,30],[2006.97,9],
[2007.2,8],[2007.4,8],[2007.57,8],
[2007.58,38],[2007.63,30],[2007.68,26],[2007.73,42],[2007.77,30],[2007.82,22],[2007.86,28],[2007.9,38],[2007.95,56],[2007.96,4],
[2008.24,7],[2008.4,4],[2008.55,4],
[2008.56,58],[2008.62,50],[2008.68,42],[2008.72,62],[2008.76,50],[2008.8,40],[2008.86,38],[2008.92,25],[2008.97,15],[2008.98,5],
[2009.3,7],[2009.45,5],[2009.59,5],
[2009.6,28],[2009.65,28],[2009.71,38],[2009.75,30],[2009.79,35],[2009.83,28],[2009.87,32],[2009.92,36],[2009.96,50],[2009.98,4],
[2010.2,4],[2010.4,5],[2010.61,5],
[2010.62,12],[2010.68,17],[2010.74,18],[2010.8,23],[2010.86,29],[2010.9,33],[2010.93,42],[2010.95,66],[2010.97,55],[2010.98,5],
[2011.2,5],[2011.25,7],[2011.4,5],[2011.55,5],
[2011.56,50],[2011.62,45],[2011.68,40],[2011.71,60],[2011.75,48],[2011.8,38],[2011.83,40],[2011.87,35],[2011.91,45],[2011.94,30],[2011.97,5],
[2012.2,5],[2012.4,5],[2012.59,5],
[2012.6,38],[2012.65,30],[2012.7,26],[2012.72,48],[2012.76,35],[2012.8,26],[2012.87,30],[2012.91,24],[2012.95,22],[2012.97,12],
[2013.2,12],[2013.4,11],[2013.57,10],
[2013.58,20],[2013.64,21],[2013.7,24],[2013.76,27],[2013.82,29],[2013.88,31],[2013.94,43],[2013.97,27],[2013.99,5],
[2014.2,5],[2014.4,5],[2014.71,5],
[2014.72,62],[2014.76,50],[2014.8,44],[2014.85,48],[2014.9,46],[2014.95,42],[2014.99,7],
[2015.2,7],[2015.4,7],[2015.73,7],
[2015.74,55],[2015.78,40],[2015.82,22],[2015.86,12],[2015.9,7],[2015.95,6],
[2016.2,5],[2016.4,5],[2016.7,5],
[2016.71,20],[2016.76,24],[2016.82,30],[2016.88,38],[2016.93,48],[2016.95,58],[2016.98,5],
[2017.2,4],[2017.4,4],[2017.57,4],
[2017.58,28],[2017.63,24],[2017.67,32],[2017.72,28],[2017.78,33],[2017.84,36],[2017.9,41],[2017.97,64],[2017.99,6],
[2018.2,6],[2018.4,6],[2018.71,6],
[2018.72,80],[2018.75,55],[2018.8,40],[2018.86,30],[2018.92,22],[2018.97,16],[2018.98,10],
[2019.2,10],[2019.4,9],[2019.55,10],
[2019.56,32],[2019.62,20],[2019.7,37],[2019.75,28],[2019.8,30],[2019.86,35],[2019.91,41],[2019.96,56],[2019.98,5],
[2020.2,5],[2020.4,6],[2020.6,7],[2020.72,9],[2020.76,13],[2020.8,17],[2020.84,22],[2020.88,27],[2020.92,36],[2020.95,50],[2020.97,64],[2020.99,79],[2021.0,6]];

const q75_w150_h5 = [[2000.0,3],[2000.3,3],[2000.54,3],[2000.55,44],[2000.62,37],[2000.7,27],[2000.78,23],[2000.86,20],[2000.94,18],[2000.95,3],
[2001.3,3],[2001.53,3],[2001.54,30],[2001.6,17],[2001.7,18],[2001.8,19],[2001.88,27],[2001.92,37],[2001.98,4],
[2002.3,4],[2002.54,4],[2002.55,14],[2002.65,13],[2002.75,19],[2002.85,23],[2002.91,32],[2002.94,50],[2002.97,2],
[2003.3,2],[2003.54,2],[2003.55,52],[2003.62,37],[2003.7,27],[2003.78,19],[2003.86,22],[2003.93,17],[2003.94,3],
[2004.3,3],[2004.55,3],[2004.56,20],[2004.63,9],[2004.71,8],[2004.8,9],[2004.88,12],[2004.93,27],[2004.95,5],
[2005.3,5],[2005.58,5],[2005.59,21],[2005.66,9],[2005.74,10],[2005.82,11],[2005.9,19],[2005.96,34],[2005.98,8],
[2006.3,7],[2006.57,6],[2006.58,20],[2006.65,10],[2006.73,15],[2006.81,17],[2006.89,22],[2006.93,35],[2006.97,5],
[2007.3,4],[2007.57,4],[2007.58,39],[2007.65,22],[2007.73,24],[2007.81,15],[2007.89,32],[2007.92,45],[2007.96,2],
[2008.3,2],[2008.55,2],[2008.56,60],[2008.62,45],[2008.7,42],[2008.78,29],[2008.86,32],[2008.94,15],[2008.98,2],
[2009.3,2],[2009.59,2],[2009.6,27],[2009.67,25],[2009.75,19],[2009.83,17],[2009.91,27],[2009.96,42],[2009.98,2],
[2010.3,2],[2010.61,2],[2010.62,8],[2010.7,15],[2010.78,19],[2010.86,25],[2010.92,37],[2010.95,65],[2010.98,2],
[2011.3,2],[2011.55,2],[2011.56,52],[2011.63,39],[2011.71,37],[2011.79,32],[2011.87,27],[2011.94,22],[2011.97,2],
[2012.3,2],[2012.59,2],[2012.6,37],[2012.67,22],[2012.75,25],[2012.83,19],[2012.91,17],[2012.97,6],
[2013.3,5],[2013.57,5],[2013.58,15],[2013.66,14],[2013.74,22],[2013.82,24],[2013.9,29],[2013.94,42],[2013.99,2],
[2014.3,2],[2014.56,2],[2014.57,52],[2014.64,35],[2014.72,32],[2014.8,35],[2014.88,42],[2014.95,35],[2014.99,3],
[2015.3,3],[2015.58,3],[2015.59,51],[2015.65,35],[2015.73,22],[2015.81,9],[2015.89,3],
[2016.3,2],[2016.61,2],[2016.62,15],[2016.7,17],[2016.78,22],[2016.86,32],[2016.93,47],[2016.95,57],[2016.98,2],
[2017.3,2],[2017.57,2],[2017.58,27],[2017.65,22],[2017.73,23],[2017.81,27],[2017.89,37],[2017.97,63],[2017.99,2],
[2018.3,2],[2018.57,2],[2018.58,77],[2018.63,47],[2018.7,32],[2018.78,22],[2018.86,19],[2018.94,12],[2018.98,5],
[2019.3,4],[2019.55,5],[2019.56,32],[2019.63,12],[2019.71,22],[2019.79,25],[2019.87,32],[2019.94,47],[2019.96,54],[2019.98,2],
[2020.3,2],[2020.6,3],[2020.72,5],[2020.8,12],[2020.88,22],[2020.95,47],[2020.99,77],[2021.0,3]];

const q75_w150_h10 = [[2000.0,3],[2000.2,3.5],[2000.4,3],[2000.54,3],
[2000.55,47],[2000.58,43],[2000.62,40],[2000.66,36],[2000.7,30],[2000.74,22],[2000.78,20],[2000.82,25],[2000.86,22],[2000.9,28],[2000.94,20],[2000.95,4],
[2001.2,4],[2001.4,3],[2001.53,4],
[2001.54,33],[2001.57,25],[2001.6,20],[2001.64,18],[2001.68,22],[2001.72,20],[2001.76,25],[2001.8,22],[2001.84,28],[2001.88,30],[2001.92,40],[2001.95,30],[2001.98,6],
[2002.2,6],[2002.4,6],[2002.54,6],
[2002.55,17],[2002.59,16],[2002.63,18],[2002.67,15],[2002.71,20],[2002.75,22],[2002.79,25],[2002.83,24],[2002.87,28],[2002.91,35],[2002.94,53],[2002.96,40],[2002.97,3],
[2003.2,3],[2003.4,3],[2003.54,3],
[2003.55,55],[2003.58,48],[2003.62,40],[2003.66,35],[2003.7,30],[2003.74,25],[2003.78,22],[2003.82,28],[2003.86,25],[2003.9,28],[2003.93,20],[2003.94,4],
[2004.2,4],[2004.4,3],[2004.55,4],
[2004.56,23],[2004.59,14],[2004.63,12],[2004.67,10],[2004.71,13],[2004.75,15],[2004.79,12],[2004.83,11],[2004.87,14],[2004.91,18],[2004.93,30],[2004.95,6],
[2005.2,6],[2005.4,7],[2005.58,6],
[2005.59,24],[2005.62,14],[2005.66,11],[2005.7,13],[2005.74,12],[2005.78,15],[2005.82,14],[2005.86,18],[2005.9,22],[2005.94,30],[2005.96,37],[2005.98,10],
[2006.15,11],[2006.3,9],[2006.35,3],[2006.36,9],[2006.57,8],
[2006.58,23],[2006.61,14],[2006.65,12],[2006.69,15],[2006.73,18],[2006.77,16],[2006.81,20],[2006.85,22],[2006.89,25],[2006.93,38],[2006.96,30],[2006.97,7],
[2007.2,6],[2007.4,6],[2007.57,6],
[2007.58,42],[2007.61,30],[2007.65,25],[2007.69,22],[2007.73,27],[2007.77,20],[2007.81,18],[2007.85,25],[2007.89,35],[2007.92,48],[2007.95,45],[2007.96,2],
[2008.24,4],[2008.4,2],[2008.55,2],
[2008.56,63],[2008.59,55],[2008.62,48],[2008.66,40],[2008.7,45],[2008.74,38],[2008.78,32],[2008.82,28],[2008.86,35],[2008.9,22],[2008.94,18],[2008.97,12],[2008.98,3],
[2009.3,4],[2009.45,3],[2009.59,3],
[2009.6,30],[2009.63,25],[2009.67,28],[2009.71,36],[2009.75,22],[2009.79,28],[2009.83,20],[2009.87,25],[2009.91,30],[2009.94,38],[2009.96,45],[2009.98,2],
[2010.2,2],[2010.4,3],[2010.61,3],
[2010.62,10],[2010.66,14],[2010.7,18],[2010.74,15],[2010.78,22],[2010.82,20],[2010.86,28],[2010.89,30],[2010.92,40],[2010.95,68],[2010.97,55],[2010.98,3],
[2011.2,3],[2011.4,4],[2011.55,3],
[2011.56,55],[2011.59,48],[2011.63,42],[2011.67,38],[2011.71,40],[2011.75,32],[2011.79,35],[2011.83,28],[2011.87,30],[2011.91,38],[2011.94,25],[2011.97,3],
[2012.2,3],[2012.4,3],[2012.59,3],
[2012.6,40],[2012.63,32],[2012.67,25],[2012.71,22],[2012.75,28],[2012.79,20],[2012.83,22],[2012.87,25],[2012.91,20],[2012.95,18],[2012.97,9],
[2013.2,8],[2013.4,8],[2013.57,7],
[2013.58,18],[2013.62,20],[2013.66,17],[2013.7,22],[2013.74,25],[2013.78,23],[2013.82,27],[2013.86,28],[2013.9,32],[2013.94,45],[2013.97,25],[2013.99,3],
[2014.2,3],[2014.4,3],[2014.56,3],
[2014.57,55],[2014.6,45],[2014.64,38],[2014.68,40],[2014.72,35],[2014.76,42],[2014.8,38],[2014.84,40],[2014.88,45],[2014.92,42],[2014.95,38],[2014.99,5],
[2015.2,5],[2015.4,5],[2015.58,5],
[2015.59,54],[2015.62,45],[2015.65,38],[2015.69,30],[2015.73,25],[2015.77,18],[2015.81,12],[2015.85,8],[2015.89,5],[2015.95,4],
[2016.2,3],[2016.4,3],[2016.61,3],
[2016.62,18],[2016.66,17],[2016.7,20],[2016.74,22],[2016.78,25],[2016.82,30],[2016.86,35],[2016.9,42],[2016.93,50],[2016.95,60],[2016.98,3],
[2017.2,2],[2017.4,2],[2017.57,2],
[2017.58,30],[2017.61,22],[2017.65,25],[2017.69,30],[2017.73,26],[2017.77,32],[2017.81,30],[2017.85,35],[2017.89,40],[2017.93,48],[2017.97,66],[2017.99,4],
[2018.2,4],[2018.4,4],[2018.57,4],
[2018.58,80],[2018.6,65],[2018.63,50],[2018.66,42],[2018.7,35],[2018.74,30],[2018.78,25],[2018.82,20],[2018.86,22],[2018.9,18],[2018.94,15],[2018.97,12],[2018.98,7],
[2019.2,7],[2019.4,6],[2019.55,7],
[2019.56,35],[2019.59,18],[2019.63,15],[2019.67,20],[2019.71,25],[2019.75,22],[2019.79,28],[2019.83,30],[2019.87,35],[2019.91,40],[2019.94,50],[2019.96,57],[2019.98,3],
[2020.2,3],[2020.4,4],[2020.6,5],[2020.72,7],[2020.76,12],[2020.8,15],[2020.84,20],[2020.88,25],[2020.92,35],[2020.95,50],[2020.97,65],[2020.99,80],[2021.0,5]];

const panelData = [
  [q25_w100_h5, q25_w100_h10, q25_w150_h5, q25_w150_h10],
  [q50_w100_h5, q50_w100_h10, q50_w150_h5, q50_w150_h10],
  [q75_w100_h5, q75_w100_h10, q75_w150_h5, q75_w150_h10]
];

// ---------- layout / style ----------
const colors = ['#1f77b4', '#ff7f0e', '#2ca02c', '#d62728'];
const FONT = '"Liberation Sans", Arial, Helvetica, sans-serif';
const TXT = '#262626';
const gridTops = [55, 289, 522];
const gridHeights = [195, 194, 195];
const titleTops = [35.5, 268.5, 501.5];

const grids = [], xAxes = [], yAxes = [], series = [], titles = [], legends = [];
titles.push({text: mainTitle, left: 457, top: 11, padding: 0, textAlign: 'center',
  textStyle: {fontFamily: FONT, fontSize: 17, fontWeight: 'normal', color: TXT}});

for (let p = 0; p < 3; p++) {
  grids.push({left: 55, right: 15, top: gridTops[p], height: gridHeights[p], show: true,
    borderColor: '#d4d4d4', borderWidth: 1, backgroundColor: 'transparent'});
  const isBottom = p === 2;
  xAxes.push({type: 'value', gridIndex: p, min: 1998.95, max: 2022.1,
    axisLine: {show: false}, axisTick: {show: false, customValues: xTicks},
    axisLabel: {show: isBottom, customValues: xTicks, margin: 7, fontFamily: FONT, fontSize: 12, color: TXT,
      formatter: function (v) { return String(Math.round(v)); }},
    splitLine: {show: true, lineStyle: {color: '#ececec', width: 1}},
    name: isBottom ? 'Year' : '', nameLocation: 'middle', nameGap: 21,
    nameTextStyle: {fontFamily: FONT, fontSize: 13.5, color: TXT}});
  yAxes.push({type: 'value', gridIndex: p, min: 0, max: 100, interval: 20,
    axisLine: {show: false}, axisTick: {show: false},
    axisLabel: {margin: 7, fontFamily: FONT, fontSize: 12, color: TXT},
    splitLine: {show: true, lineStyle: {color: '#ececec', width: 1}},
    name: 'TCI (%)', nameLocation: 'middle', nameGap: 30,
    nameTextStyle: {fontFamily: FONT, fontSize: 13.5, color: TXT}});
  titles.push({text: panelTitles[p], left: 474, top: titleTops[p], padding: 0, textAlign: 'center',
    textStyle: {fontFamily: FONT, fontSize: 16, fontWeight: 'normal', color: TXT}});
  legends.push({data: seriesNames, orient: 'vertical', left: 58, top: gridTops[p] + 5,
    backgroundColor: '#ffffff', borderColor: '#dddddd', borderWidth: 1, borderRadius: 3,
    padding: [3, 5, 4, 6], itemWidth: 22, itemHeight: 2, itemGap: 3.5, icon: 'rect',
    selectedMode: false,
    textStyle: {fontFamily: FONT, fontSize: 10.5, color: TXT, lineHeight: 12, padding: [0, 0, 0, 3]}});
  for (let s = 0; s < 4; s++) {
    series.push({type: 'line', name: seriesNames[s], xAxisIndex: p, yAxisIndex: p,
      data: panelData[p][s], showSymbol: false, symbol: 'none', animation: false,
      color: colors[s], lineStyle: {color: colors[s], width: 1.8}, z: 2 + s});
  }
}

const chart = echarts.init(document.getElementById('chart'), null, {renderer: 'canvas'});
chart.setOption({
  animation: false, backgroundColor: '#ffffff',
  title: titles, grid: grids, xAxis: xAxes, yAxis: yAxes, legend: legends, series: series
});
</script>
</body>
</html>
